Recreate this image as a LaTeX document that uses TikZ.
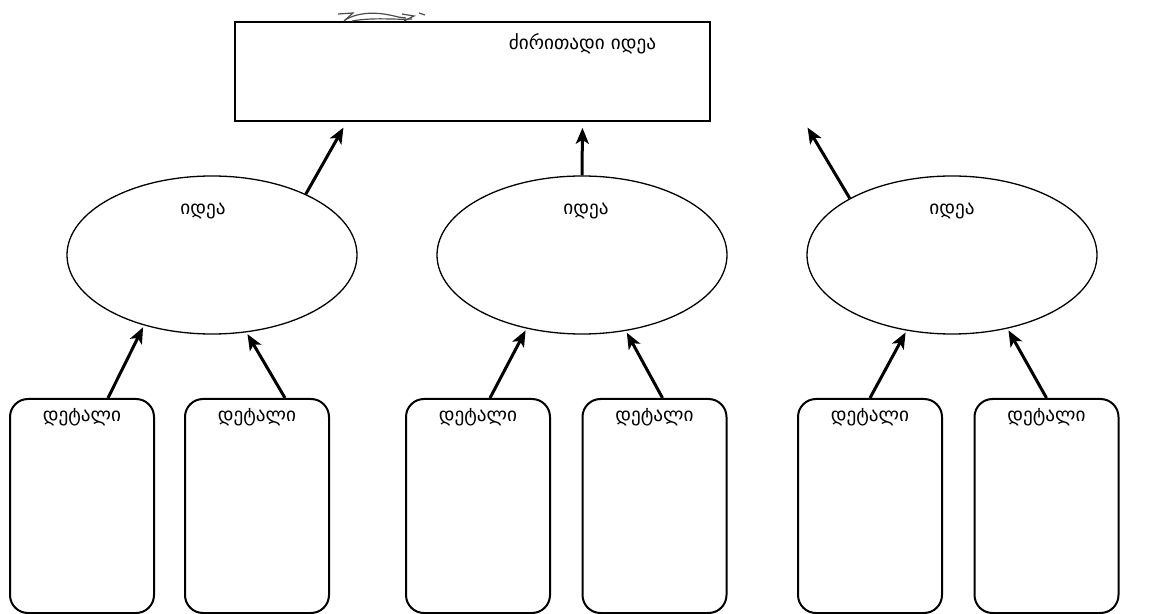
\documentclass[tikz,border=0pt]{standalone}
\usepackage{fontspec}
\newfontfamily\geofont{DejaVu Sans}
\usetikzlibrary{arrows.meta,shapes.geometric}
\tikzset{
	topbox/.style={draw, line width=0.8pt, minimum width=237.5pt, minimum height=49.5pt},
	idea/.style={draw, ellipse, line width=0.65pt, minimum width=145pt, minimum height=79pt},
	detail/.style={draw, rounded corners=9pt, line width=1pt, minimum width=72pt, minimum height=107pt},
	lbl/.style={font=\geofont\fontsize{9.6}{11}\selectfont, inner sep=0pt},
	arr/.style={line width=1.5pt, -{Stealth[length=8pt,width=6.5pt,inset=2pt]}, shorten >=1pt}
}
\begin{document}
\begin{tikzpicture}[x=0.5pt, y=-0.5pt]
	\useasboundingbox (0,0) rectangle (1157,614);
	\node[topbox] (main) at (472.5,71.5) {};
	\node[lbl] (maintxt) at ([xshift=55pt, yshift=-11.5pt]main.north) {ძირითადი იდეა};
	% small scribble above the box
	\draw[gray!60!black, line width=0.6pt] (338,14) -- (353,13) -- (344,21);
	\draw[gray!60!black, line width=0.6pt] (345,20) .. controls (360,11) and (380,12) .. (398,17) -- (406,18);
	\draw[gray!60!black, line width=0.6pt] (352,21) .. controls (375,17) and (395,20) .. (412,19);
	\draw[gray!60!black, line width=0.6pt] (402,14) -- (414,16) -- (404,21);
	\draw[gray!60!black, line width=0.6pt] (419,13) -- (425,15);

	\node[idea] (i1) at (212,255) {};
	\node[idea] (i2) at (582,255) {};
	\node[idea] (i3) at (952,255) {};
	\node[lbl] (i1txt) at ([xshift=-4.5pt, yshift=-18pt]i1.north) {იდეა};
	\node[lbl] (i2txt) at ([xshift=2pt, yshift=-18pt]i2.north) {იდეა};
	\node[lbl] (i3txt) at ([yshift=-18pt]i3.north) {იდეა};

	\node[detail] (d1) at (82,506) {};
	\node[detail] (d2) at (257,506) {};
	\node[detail] (d3) at (478,506) {};
	\node[detail] (d4) at (654.5,506) {};
	\node[detail] (d5) at (870,506) {};
	\node[detail] (d6) at (1046.5,506) {};
	\foreach \d in {1,...,6}
		\node[lbl] (d\d txt) at ([yshift=-9.5pt]d\d.north) {დეტალი};

	\draw[arr] (i1.33.6) -- ([xshift=-64pt, yshift=-2pt]main.south);
	\draw[arr] (i2.north) -- ([xshift=55pt, yshift=-2pt]main.south);
	\draw[arr] (i3.151.2) -- ([xshift=167pt, yshift=-2pt]main.south);

	\draw[arr] ([xshift=13pt]d1.north) -- (i1.226.8);
	\draw[arr] ([xshift=14pt]d2.north) -- (i1.294.5);
	\draw[arr] ([xshift=6pt]d3.north) -- (i2.233.6);
	\draw[arr] ([xshift=4pt]d4.north) -- (i2.300.9);
	\draw[arr] (d5.north) -- (i3.239.1);
	\draw[arr] (d6.north) -- (i3.307.5);
\end{tikzpicture}
\end{document}
